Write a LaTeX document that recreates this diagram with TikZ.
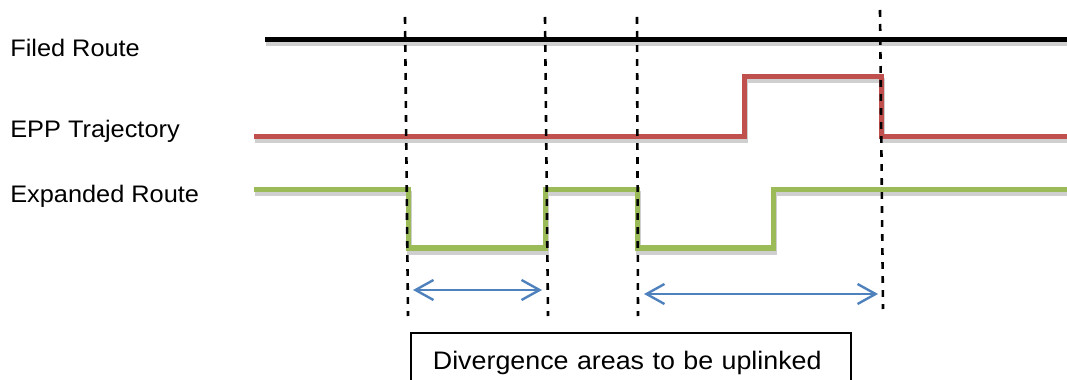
\documentclass[tikz,border=0pt]{standalone}
\usepackage{fontspec}
\setmainfont{Liberation Sans}[FakeStretch=1.06]
\usepackage{xcolor}
\usetikzlibrary{arrows.meta}
\definecolor{eppred}{HTML}{C0504D}
\definecolor{expgreen}{HTML}{9BBB59}
\definecolor{spanblue}{HTML}{4F81BD}

\begin{document}
\begin{tikzpicture}[
    x=0.025cm, y=-0.025cm,
    rowlabel/.style={anchor=base west, inner sep=0pt, font=\fontsize{17}{20}\selectfont},
    route/.style={line width=0.125cm},
    routeshadow/.style={route, draw=black!19, shift={(1,4)}},
    divider/.style={line width=0.065cm, dash pattern=on 0.17cm off 0.18cm},
    span/.style={{Straight Barb[length=0.45cm,width=0.5cm]}-{Straight Barb[length=0.45cm,width=0.5cm]}, spanblue, line width=0.06cm},
    note/.style={draw, line width=0.045cm, anchor=north west, align=left, text width=9.9cm, inner xsep=0.55cm, inner ysep=0.45cm, font=\fontsize{18}{21}\selectfont}
]
\useasboundingbox (0,0) rectangle (1067,380);

\node[rowlabel] (filed) at (10,57) {Filed Route};
\node[rowlabel] (epp) at (10,138) {EPP Trajectory};
\node[rowlabel] (expanded) at (10,203) {Expanded Route};

\draw[routeshadow] (265,40) -- (1067,40);
\draw[route, black] (265,40) -- (1067,40);
\draw[routeshadow] (254,137) -- (744,137) -- (744,77) -- (881,77) -- (881,137) -- (1067,137);
\draw[route, eppred] (254,137) -- (744,137) -- (744,77) -- (881,77) -- (881,137) -- (1067,137);
\draw[routeshadow] (254,190) -- (408,190) -- (408,248) -- (545,248) -- (545,190) -- (637,190) -- (637,248) -- (773,248) -- (773,190) -- (1067,190);
\draw[route, expgreen] (254,190) -- (408,190) -- (408,248) -- (545,248) -- (545,190) -- (637,190) -- (637,248) -- (773,248) -- (773,190) -- (1067,190);

\coordinate (d1t) at (405,17);  \coordinate (d1b) at (408,316);
\coordinate (d2t) at (545,17);  \coordinate (d2b) at (548,316);
\coordinate (d3t) at (637,17);  \coordinate (d3b) at (638,316);
\coordinate (d4t) at (880,10);  \coordinate (d4b) at (883,309);
\draw[divider] (d1t) -- (d1b);
\draw[divider] (d2t) -- (d2b);
\draw[divider] (d3t) -- (d3b);
\draw[divider] (d4t) -- (d4b);

\coordinate (a1l) at (413,290); \coordinate (a1r) at (542,290);
\coordinate (a2l) at (644,294); \coordinate (a2r) at (878,294);
\draw[span] (a1l) -- (a1r);
\draw[span] (a2l) -- (a2r);

\node[note] (uplink) at (410,332) {Divergence areas to be uplinked};
\end{tikzpicture}
\end{document}
